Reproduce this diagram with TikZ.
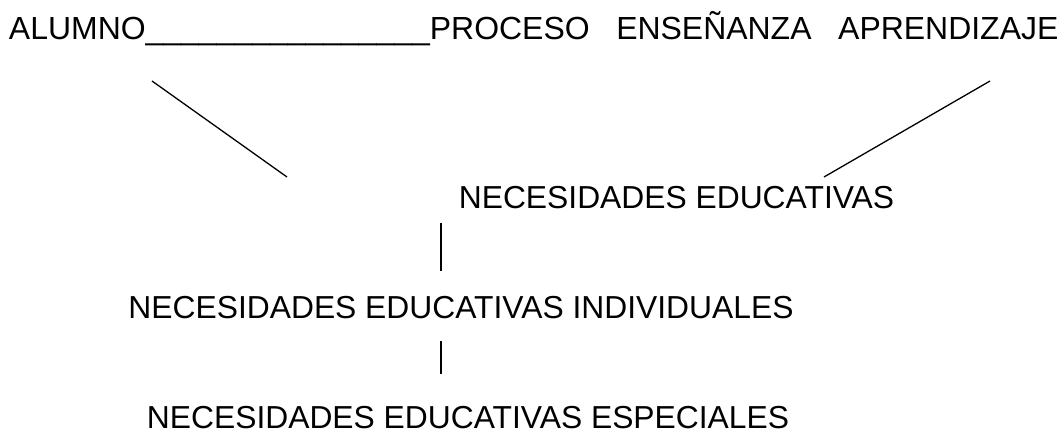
\documentclass[tikz,border=0pt]{standalone}
\usepackage{fontspec}
\setmainfont{Liberation Sans}
\begin{document}
\begin{tikzpicture}[x=1pt,y=-1pt,
  lbl/.style={inner sep=0pt,outer sep=0pt,font=\fontsize{31.8}{38}\selectfont},
  toplbl/.style={lbl,font=\fontsize{31.95}{38}\selectfont},
  conn/.style={line width=1.3pt,black}]
\useasboundingbox (0,0) rectangle (1061,432);
\node[toplbl,anchor=base west] (top) at (9,39) {ALUMNO\_\_\_\_\_\_\_\_\_\_\_\_\_\_\_\_PROCESO\ \ \ ENSEÑANZA\ \ \ APRENDIZAJE};
\node[lbl,anchor=base] (ne) at (676.5,208) {NECESIDADES EDUCATIVAS};
\node[lbl,anchor=base] (nei) at (461,318) {NECESIDADES EDUCATIVAS INDIVIDUALES};
\node[lbl,anchor=base] (nee) at (468,428) {NECESIDADES EDUCATIVAS ESPECIALES};
\coordinate (l1) at (152,81);
\coordinate (l2) at (287,177);
\coordinate (r1) at (990,81);
\coordinate (r2) at (824,177);
\coordinate (v1) at (441,223);
\coordinate (v2) at (441,271);
\coordinate (v3) at (441,341);
\coordinate (v4) at (441,374);
\draw[conn] (l1) -- (l2);
\draw[conn] (r1) -- (r2);
\draw[conn] (v1) -- (v2);
\draw[conn] (v3) -- (v4);
\end{tikzpicture}
\end{document}
